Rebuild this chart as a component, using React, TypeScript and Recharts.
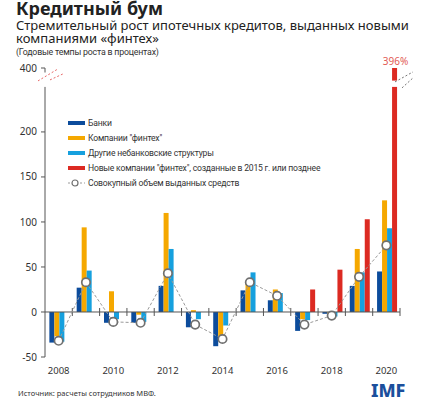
import React from 'react';
import { ComposedChart, Bar, Line, XAxis, YAxis, ReferenceLine, Legend, LabelList } from 'recharts';

const years = ['2008', '2009', '2010', '2011', '2012', '2013', '2014', '2015', '2016', '2017', '2018', '2019', '2020'];
const banks = [-34, 27, -12, -12, 29, -17, -38, 24, 13, -21, -2, 29, 45];
const fintech = [-27, 94, 23, -3, 110, 2, -29, 34, 25, -8, -3, 70, 124];
const otherNonBanks = [-33, 46, -8, -11, 70, -8, -15, 44, 21, -9, -5, 44, 93];
const newFintech = [null, null, null, null, null, null, null, null, null, 25, 47, 103, 396];
const total = [-32, 33, -11, -12, 43, -14, -30, 33, 18, -14, -4, 39, 74];
const yTickValues = [-50, 0, 50, 100, 150, 200, 400];

const seriesNames = {
    banks: 'Банки',
    fintech: 'Компании "финтех"',
    other: 'Другие небанковские структуры',
    newFintech: 'Новые компании "финтех", созданные в 2015 г. или позднее',
    total: 'Совокупный объем выданных средств',
};

const COLORS = {
    banks: '#0c4c9c',
    fintech: '#f5a800',
    other: '#16a0de',
    newFintech: '#dc2a22',
    line: '#9a9a9a',
    dot: '#707070',
};

// axis break: everything above 250 is squeezed to the top of the axis
const BREAK_FROM = 250;
const BREAK_RESUME = 257;
const AXIS_TOP = 271;
const toDisplay = (v: number) => (v > BREAK_FROM ? AXIS_TOP : v);

const data = years.map((year, i) => ({
    year,
    banks: banks[i],
    fintech: fintech[i],
    other: otherNonBanks[i],
    newFintech: newFintech[i],
    total: total[i],
}));

const FONT = '"Noto Sans", "Open Sans", sans-serif';
const NARROW = 'Roboto, "Noto Sans", sans-serif';

const BrokenBar = (props: any) => {
    const { x, y, width, height, fill, payload } = props;
    const raw = payload?.newFintech;
    if (raw == null || !height) return null;
    if (raw <= BREAK_FROM) return <rect x={x} y={y} width={width} height={height} fill={fill} />;
    const ppu = height / toDisplay(raw);
    const base = y + height;
    const yLow = base - BREAK_FROM * ppu;
    const yHigh = base - BREAK_RESUME * ppu;
    return (
        <g>
            <rect x={x} y={yLow} width={width} height={base - yLow} fill={fill} />
            <rect x={x} y={y} width={width} height={yHigh - y} fill={fill} />
        </g>
    );
};

const BreakLabel = (props: any) => {
    const { x, y, width, value } = props;
    if (value == null || value <= BREAK_FROM) return null;
    return (
        <text x={x + width / 2 + 1} y={y - 3} textAnchor="middle" fontSize={10} fill="#e25b55" fontFamily={FONT}>
            {value}%
        </text>
    );
};

const ZeroAxis = (props: any) => {
    const { x1, x2, y1 } = props;
    const step = (x2 - x1) / years.length;
    return (
        <g stroke="#555" strokeWidth={1}>
            <line x1={x1} x2={x2} y1={y1} y2={y1} />
            {years.map((_, i) => (
                <line key={i} x1={x1 + step * (i + 1)} x2={x1 + step * (i + 1)} y1={y1 - 4} y2={y1 + 4} />
            ))}
        </g>
    );
};

const BreakMarks = (props: any) => {
    const { x1, x2, y1 } = props;
    return (
        <g strokeWidth={1} strokeDasharray="2 2" fill="none">
            <line x1={x1 - 7} y1={y1 + 3} x2={x1 + 13} y2={y1 - 9} stroke="#e86a6a" />
            <line x1={x1 + 5} y1={y1 + 2} x2={x1 + 18} y2={y1 - 4} stroke="#e86a6a" />
            <line x1={x2 - 5} y1={y1 + 4} x2={x2 + 13} y2={y1 - 6} stroke="#777" />
            <line x1={x2 + 2} y1={y1 + 10} x2={x2 + 13} y2={y1} stroke="#777" />
        </g>
    );
};

const TotalDot = (props: any) => {
    const { cx, cy, index } = props;
    if (cx == null || cy == null) return null;
    return <circle key={index} cx={cx} cy={cy} r={4.2} fill="#fff" stroke={COLORS.dot} strokeWidth={1.7} />;
};

const legendItems = [
    { key: 'banks', type: 'bar' },
    { key: 'fintech', type: 'bar' },
    { key: 'other', type: 'bar' },
    { key: 'newFintech', type: 'bar' },
    { key: 'total', type: 'line' },
];

const renderLegend = () => (
    <div style={{ position: 'relative', width: 320, height: 76, fontFamily: NARROW, fontSize: 8.6, letterSpacing: -0.2, color: '#333' }}>
        {legendItems.map((item, i) => (
            <div
                key={item.key}
                style={{ position: 'absolute', left: 0, top: i * 15, height: 14, display: 'flex', alignItems: 'center', whiteSpace: 'nowrap' }}
            >
                <svg width={19} height={10} style={{ marginRight: 1 }}>
                    {item.type === 'bar' ? (
                        <rect x={0} y={3} width={17} height={4} fill={(COLORS as any)[item.key]} />
                    ) : (
                        <g>
                            <line x1={0} x2={17} y1={5} y2={5} stroke={COLORS.line} strokeDasharray="2 2" />
                            <circle cx={7} cy={5} r={3} fill="#fff" stroke={COLORS.dot} strokeWidth={1.2} />
                        </g>
                    )}
                </svg>
                <span>{(seriesNames as any)[item.key]}</span>
            </div>
        ))}
    </div>
);

export default function App() {
    return (
        <div style={{ position: 'absolute', left: 0, top: 0, width: 421, height: 409, background: '#fff', color: '#222' }}>
            <svg width={421} height={60} style={{ position: 'absolute', left: 0, top: 0 }}>
                <text x={16} y={15} fontFamily={FONT} fontSize={18} fontWeight={700} fill="#222">
                    Кредитный бум
                </text>
                <text x={16} y={30} fontFamily={FONT} fontSize={13} fill="#222">
                    Стремительный рост ипотечных кредитов, выданных новыми
                </text>
                <text x={16} y={42.5} fontFamily={FONT} fontSize={13} fill="#222">
                    компаниями «финтех»
                </text>
                <text x={16} y={55} fontFamily={NARROW} fontSize={8.8} letterSpacing={-0.2} fill="#333">
                    (Годовые темпы роста в процентах)
                </text>
            </svg>
            <div style={{ position: 'absolute', left: 0, top: 0 }}>
                <ComposedChart
                    width={421}
                    height={409}
                    data={data}
                    margin={{ top: 68, right: 21, bottom: 22, left: 0 }}
                    barCategoryGap="16%"
                    barGap={0}
                >
                    <XAxis
                        dataKey="year"
                        interval={1}
                        axisLine={false}
                        tickLine={false}
                        height={30}
                        tick={{ fontSize: 9.5, fill: '#333', fontFamily: FONT }}
                        dy={2}
                    />
                    <YAxis
                        type="number"
                        domain={[-50, AXIS_TOP]}
                        ticks={yTickValues.map(toDisplay)}
                        tickFormatter={(v: number) => (v === AXIS_TOP ? '400' : String(v))}
                        allowDataOverflow
                        width={45}
                        axisLine={false}
                        tickLine={{ stroke: '#555' }}
                        tickSize={4}
                        tickMargin={4}
                        tick={{ fontSize: 10, fill: '#333', fontFamily: FONT }}
                    />
                    <Legend
                        layout="vertical"
                        align="center"
                        verticalAlign="middle"
                        content={renderLegend}
                        wrapperStyle={{ left: 68, top: 116, width: 320, height: 76 }}
                    />
                    <ReferenceLine
                        segment={[{ x: years[0], y: -50 }, { x: years[0], y: BREAK_FROM }]}
                        position="start"
                        stroke="#555"
                        ifOverflow="visible"
                    />
                    <ReferenceLine
                        segment={[{ x: years[0], y: 266 }, { x: years[0], y: AXIS_TOP }]}
                        position="start"
                        stroke="#555"
                        ifOverflow="visible"
                    />
                    <ReferenceLine y={260} stroke="none" shape={BreakMarks} ifOverflow="visible" />
                    <Bar dataKey="banks" fill={COLORS.banks} isAnimationActive={false} />
                    <Bar dataKey="fintech" fill={COLORS.fintech} isAnimationActive={false} />
                    <Bar dataKey="other" fill={COLORS.other} isAnimationActive={false} />
                    <Bar
                        dataKey={(d: any) => (d.newFintech == null ? null : toDisplay(d.newFintech))}
                        name="newFintech"
                        fill={COLORS.newFintech}
                        shape={BrokenBar}
                        isAnimationActive={false}
                    >
                        <LabelList dataKey="newFintech" content={BreakLabel} />
                    </Bar>
                    <ReferenceLine y={0} shape={ZeroAxis} />
                    <Line
                        dataKey="total"
                        stroke={COLORS.line}
                        strokeWidth={1}
                        strokeDasharray="3 2"
                        dot={TotalDot}
                        activeDot={false}
                        isAnimationActive={false}
                    />
                </ComposedChart>
            </div>
            <svg width={421} height={30} style={{ position: 'absolute', left: 0, top: 379 }}>
                <text x={18} y={17} fontFamily={FONT} fontSize={7.5} fill="#333">
                    Источник: расчеты сотрудников МВФ.
                </text>
                <text x={371} y={18} fontFamily={FONT} fontSize={18} fontWeight={800} fill="#1b4f9c">
                    IMF
                </text>
            </svg>
        </div>
    );
}
